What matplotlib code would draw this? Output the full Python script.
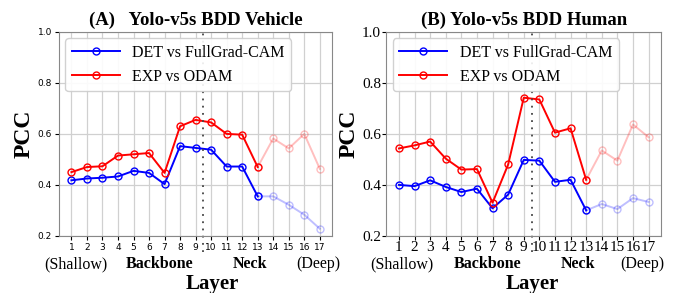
import numpy as np
import matplotlib
matplotlib.use("Agg")
import matplotlib.pyplot as plt

layers = list(range(1, 18))

# (A) vehicle
veh_det = [0.418, 0.425, 0.428, 0.433, 0.455, 0.447, 0.403, 0.552, 0.545, 0.538,
           0.472, 0.472, 0.355, 0.355, 0.322, 0.283, 0.228]
veh_exp = [0.450, 0.470, 0.473, 0.515, 0.520, 0.525, 0.447, 0.630, 0.655, 0.645,
           0.600, 0.597, 0.470, 0.582, 0.543, 0.600, 0.463]

# (B) human
hum_det = [0.400, 0.395, 0.418, 0.392, 0.372, 0.385, 0.308, 0.362, 0.498, 0.495,
           0.412, 0.420, 0.300, 0.325, 0.305, 0.348, 0.333]
hum_exp = [0.543, 0.555, 0.570, 0.503, 0.460, 0.462, 0.330, 0.480, 0.742, 0.735,
           0.605, 0.622, 0.420, 0.535, 0.495, 0.637, 0.587]

titles = ["(A)   Yolo-v5s BDD Vehicle", "(B) Yolo-v5s BDD Human"]
serif = "Liberation Serif"

fig = plt.figure(figsize=(6.78, 2.93), dpi=100)
ax1 = fig.add_axes([0.087, 0.195, 0.403, 0.696])
ax2 = fig.add_axes([0.570, 0.195, 0.405, 0.696])

def draw(ax, det, exp, title, serif_ticks, text_pos, layer_x):
    x = np.array(layers)
    det = np.array(det)
    exp = np.array(exp)
    cut = 12  # index of layer 13
    kw = dict(marker="o", mfc="none", ms=5, lw=1.4, mew=1.0)
    ax.plot(x[:cut + 1], det[:cut + 1], color="blue", label="DET vs FullGrad-CAM", **kw)
    ax.plot(x[:cut + 1], exp[:cut + 1], color="red", label="EXP vs ODAM", **kw)
    ax.plot(x[cut:], det[cut:], color="blue", alpha=0.25, **kw)
    ax.plot(x[cut:], exp[cut:], color="red", alpha=0.25, **kw)
    ax.axvline(9.5, ymin=-0.08, ymax=1.0, color="#444444", ls=(0, (1, 3)), lw=1.3, clip_on=False)

    ax.set_xlim(0.2, 17.8)
    ax.set_ylim(0.2, 1.0)
    ax.set_xticks(layers)
    ax.set_yticks([0.2, 0.4, 0.6, 0.8, 1.0])
    ax.grid(True, color="#d0d0d0", lw=0.9)
    ax.set_axisbelow(True)
    for s in ax.spines.values():
        s.set_color("#888888")
    if serif_ticks:
        ax.tick_params(labelsize=11, length=3, pad=1)
        for lab in ax.get_xticklabels() + ax.get_yticklabels():
            lab.set_fontfamily(serif)
    else:
        ax.tick_params(labelsize=6.5, length=3, pad=2)

    ax.set_title(title, fontfamily=serif, fontweight="bold", fontsize=13.5, pad=5)
    ax.set_ylabel("PCC", fontfamily=serif, fontweight="bold", fontsize=17, labelpad=2)
    ax.legend(loc="upper left", prop={"family": serif, "size": 11.5},
              handlelength=3, borderaxespad=0.4, framealpha=0.9)

    tr = ax.get_xaxis_transform()
    labels = ["(Shallow)", "Backbone", "Neck", "(Deep)"]
    weights = ["normal", "bold", "bold", "normal"]
    for lab, w, px in zip(labels, weights, text_pos):
        ax.text(px, -0.14, lab, transform=tr, ha="center", va="center",
                fontfamily=serif, fontsize=11.5, fontweight=w, clip_on=False)
    ax.text(layer_x, -0.235, "Layer", transform=tr, ha="center", va="center",
            fontfamily=serif, fontsize=15, fontweight="bold", clip_on=False)

draw(ax1, veh_det, veh_exp, titles[0], False, [1.3, 6.7, 12.5, 16.9], 10.06)
draw(ax2, hum_det, hum_exp, titles[1], True, [1.2, 6.66, 12.5, 16.6], 9.57)

fig.savefig("out.png", dpi=100)
